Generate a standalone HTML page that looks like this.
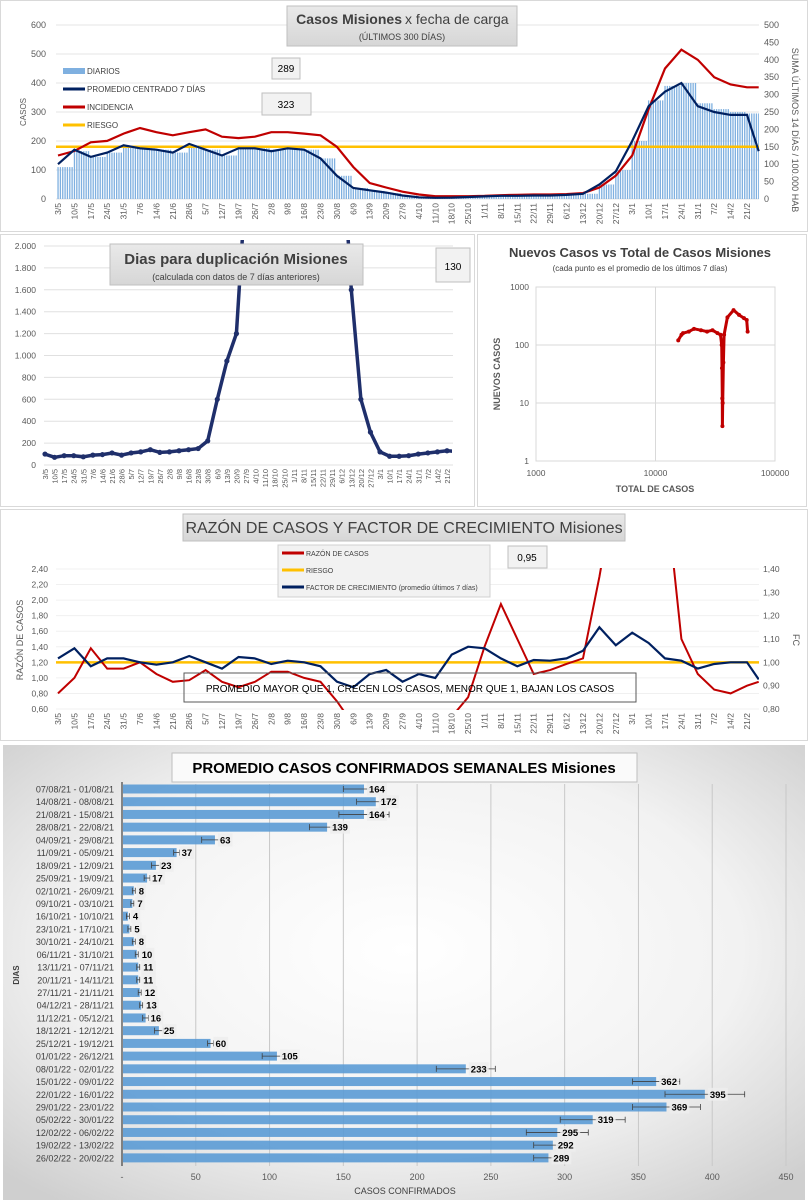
<!DOCTYPE html>
<html><head><meta charset="utf-8"><title>Misiones COVID dashboard</title>
<style>
html,body{margin:0;padding:0;background:#fff;}
svg{display:block;font-family:"Liberation Sans",sans-serif;}
</style></head>
<body>
<svg id="root" width="808" height="1200" viewBox="0 0 808 1200">
<defs>
<radialGradient id="bg5" cx="50%" cy="45%" r="70%"><stop offset="0" stop-color="#ffffff"/><stop offset="0.6" stop-color="#f2f2f2"/><stop offset="1" stop-color="#cfcfcf"/></radialGradient>
<linearGradient id="tbox" x1="0" y1="0" x2="0" y2="1"><stop offset="0" stop-color="#e9e9e9"/><stop offset="1" stop-color="#d6d6d6"/></linearGradient>
<clipPath id="clip1"><rect x="56" y="24" width="703" height="176"/></clipPath>
<clipPath id="clip2"><rect x="40" y="240" width="412" height="226"/></clipPath>
<clipPath id="clip4"><rect x="56" y="568" width="703" height="142"/></clipPath>
</defs>
<rect x="0.5" y="0.5" width="807" height="231" fill="#fff" stroke="#d9d9d9"/>
<rect x="0.5" y="234.5" width="474" height="272" fill="#fff" stroke="#d9d9d9"/>
<rect x="477.5" y="234.5" width="329" height="272" fill="#fff" stroke="#d9d9d9"/>
<rect x="0.5" y="509.5" width="807" height="231" fill="#fff" stroke="#d9d9d9"/>
<rect x="3" y="745" width="802" height="455" fill="url(#bg5)"/>
<g id="g1"></g><g id="g2"></g><g id="g3"></g><g id="g4"></g><g id="g5"></g>
</svg>
<script>
// ---------- shared data ----------
const weekLabels = ["3/5","10/5","17/5","24/5","31/5","7/6","14/6","21/6","28/6","5/7","12/7","19/7","26/7","2/8","9/8","16/8","23/8","30/8","6/9","13/9","20/9","27/9","4/10","11/10","18/10","25/10","1/11","8/11","15/11","22/11","29/11","6/12","13/12","20/12","27/12","3/1","10/1","17/1","24/1","31/1","7/2","14/2","21/2"];
// chart 1
const diariosSemana = [110,165,145,160,180,175,170,160,185,170,150,175,175,170,175,170,140,80,38,28,20,12,6,4,5,7,9,11,11,12,12,14,18,50,100,200,340,390,400,330,310,300,295];
const promedio7 = [120,170,145,160,185,175,170,160,190,170,150,175,175,165,175,170,140,80,38,30,22,12,6,4,5,7,9,11,11,12,12,14,18,50,95,200,320,370,400,320,300,290,290,165];
const incidencia = [125,138,163,167,188,204,192,183,192,200,179,175,179,192,192,188,183,150,92,46,33,21,13,8,8,8,9,11,12,13,13,14,17,33,67,125,258,375,429,400,350,329,321,321];
const riesgo1 = 150;
const casosTicks = [0,100,200,300,400,500,600];
const incTicks = [0,50,100,150,200,250,300,350,400,450,500];
// chart 2
const duplicacion = [100,70,85,85,75,90,95,110,90,110,120,140,115,120,130,140,150,220,600,950,1200,2600,3000,3000,3000,3000,3000,3000,3000,3000,3000,3000,1600,600,300,120,80,80,85,100,110,120,130,125];
const dupTicks = [0,200,400,600,800,1000,1200,1400,1600,1800,2000];
// chart 3
const totalCasos = [15500,16500,17000,19000,21000,24000,27000,30000,33000,35000,35800,36000,36200,36300,36500,37000,37500,40000,45000,50000,55000,58000,59000];
const nuevosCasos = [120,150,160,170,190,180,170,180,160,150,100,40,12,4,10,50,150,300,400,330,290,270,170];
// chart 4
const razon = [0.80,1.00,1.38,1.12,1.12,1.20,1.05,0.95,0.97,1.10,0.95,0.88,0.95,1.08,1.08,1.00,0.95,0.70,0.40,0.30,0.30,0.30,0.30,0.30,0.50,0.75,1.40,1.95,1.50,1.05,1.10,1.18,1.25,2.30,3.50,4.00,4.00,3.50,1.50,1.05,0.85,0.80,0.90,0.95];
const factorCrec = [1.017,1.06,0.983,1.017,1.017,1.0,0.99,1.0,1.027,1.0,0.973,1.023,1.017,0.993,1.007,1.0,0.983,0.917,0.893,0.95,0.967,0.917,0.95,0.933,1.033,1.067,1.06,1.017,0.983,1.01,1.007,1.017,1.05,1.15,1.073,1.127,1.083,1.017,1.007,0.973,0.993,1.0,1.0,0.927];
const riesgo4 = 1.20;
const razonTicks = [0.6,0.8,1.0,1.2,1.4,1.6,1.8,2.0,2.2,2.4];
const fcTicks = [0.8,0.9,1.0,1.1,1.2,1.3,1.4];
// chart 5
const semanas = ["07/08/21 - 01/08/21","14/08/21 - 08/08/21","21/08/21 - 15/08/21","28/08/21 - 22/08/21","04/09/21 - 29/08/21","11/09/21 - 05/09/21","18/09/21 - 12/09/21","25/09/21 - 19/09/21","02/10/21 - 26/09/21","09/10/21 - 03/10/21","16/10/21 - 10/10/21","23/10/21 - 17/10/21","30/10/21 - 24/10/21","06/11/21 - 31/10/21","13/11/21 - 07/11/21","20/11/21 - 14/11/21","27/11/21 - 21/11/21","04/12/21 - 28/11/21","11/12/21 - 05/12/21","18/12/21 - 12/12/21","25/12/21 - 19/12/21","01/01/22 - 26/12/21","08/01/22 - 02/01/22","15/01/22 - 09/01/22","22/01/22 - 16/01/22","29/01/22 - 23/01/22","05/02/22 - 30/01/22","12/02/22 - 06/02/22","19/02/22 - 13/02/22","26/02/22 - 20/02/22"];
const promedioSemanal = [164,172,164,139,63,37,23,17,8,7,4,5,8,10,11,11,12,13,16,25,60,105,233,362,395,369,319,295,292,289];
const errorSemanal = [14,13,17,12,9,2,3,2,1,1,1,1,1,1,1,1,1,1,2,3,2,10,20,16,27,23,22,21,13,10];
const barTicks = [0,50,100,150,200,250,300,350,400,450];

// ---------- helpers ----------
const NS = "http://www.w3.org/2000/svg";
function mk(parent, tag, attrs, name, inter) {
  const el = document.createElementNS(NS, tag);
  for (const k in attrs) el.setAttribute(k, attrs[k]);
  
  
  parent.appendChild(el);
  return el;
}
function txt(parent, x, y, s, size, name, extra) {
  const a = Object.assign({x: x, y: y, 'font-size': size, fill: '#595959'}, extra || {});
  const t = mk(parent, 'text', a, name, false);
  t.textContent = s;
  return t;
}
function dayOf(i) { return i < 43 ? i * 7 : 299; }
function fmt(v, dec, sep) { return v.toFixed(dec).replace('.', sep); }
function thou(v) { return v >= 1000 ? Math.floor(v / 1000) + '.' + String(v % 1000).padStart(3, '0') : String(v); }
function titleBox(g, x, y, w, h, name) { mk(g, 'rect', {x: x, y: y, width: w, height: h, fill: 'url(#tbox)', stroke: '#bfbfbf'}, name, false); }

// ---------- chart 1 ----------
(function () {
  const g = document.getElementById('g1');
  const x0 = 58, pxDay = 689 / 294;
  const X = d => x0 + d * pxDay;
  const yL = v => 199 - v * 174 / 600;
  const yR = v => 199 - v * 174 / 500;
  casosTicks.forEach(v => {
    mk(g, 'line', {x1: 56, x2: 759, y1: yL(v), y2: yL(v), stroke: '#e4e4e4'}, 'gridline', false);
    txt(g, 46, yL(v) + 3, String(v), 9, 'y-tick-label', {'text-anchor': 'end'});
  });
  incTicks.forEach(v => txt(g, 764, yR(v) + 3, String(v), 9, 'y2-tick-label'));
  const bars = mk(g, 'g', {'clip-path': 'url(#clip1)'}, 'diarios-bars', false);
  diariosSemana.forEach((v, w) => {
    for (let k = 0; k < 7; k++) {
      const d = w * 7 + k;
      if (d > 299) break;
      mk(bars, 'rect', {x: X(d) - 0.6, y: yL(v), width: 1.3, height: 199 - yL(v), fill: '#7fb0e0'}, 'bar-diarios', false);
    }
  });
  mk(g, 'line', {x1: 56, x2: 759, y1: yR(riesgo1), y2: yR(riesgo1), stroke: '#ffc000', 'stroke-width': 2.5}, 'riesgo-line', false);
  const pInc = incidencia.map((v, i) => X(dayOf(i)).toFixed(1) + ',' + yR(v).toFixed(1)).join(' ');
  mk(g, 'polyline', {points: pInc, fill: 'none', stroke: '#c00000', 'stroke-width': 2.2, 'clip-path': 'url(#clip1)'}, 'incidencia-line', false);
  const pProm = promedio7.map((v, i) => X(dayOf(i)).toFixed(1) + ',' + yL(v).toFixed(1)).join(' ');
  mk(g, 'polyline', {points: pProm, fill: 'none', stroke: '#002060', 'stroke-width': 2.2}, 'promedio-line', false);
  weekLabels.forEach((s, i) => {
    txt(g, 0, 0, s, 8.5, 'x-tick-label', {'text-anchor': 'end', transform: 'translate(' + (X(i * 7) + 3) + ',203) rotate(-90)'});
  });
  txt(g, 0, 0, 'CASOS', 8, 'y-axis-title', {'text-anchor': 'middle', transform: 'translate(26,112) rotate(-90)'});
  txt(g, 0, 0, 'SUMA  ÚLTIMOS 14 DÍAS / 100.000 HAB', 9, 'y2-axis-title', {'text-anchor': 'middle', transform: 'translate(792,130) rotate(90)'});
  titleBox(g, 287, 6, 230, 40, 'title-box');
  txt(g, 402, 24, 'Casos Misiones', 14, 'chart-title', {'text-anchor': 'end', 'font-weight': 'bold', fill: '#404040'});
  txt(g, 405, 24, ' x fecha de carga', 14, 'chart-title-2', {fill: '#404040'});
  txt(g, 402, 40, '(ÚLTIMOS 300 DÍAS)', 9, 'chart-subtitle', {'text-anchor': 'middle', fill: '#404040'});
  const leg = [['DIARIOS', '#7fb0e0', 6], ['PROMEDIO CENTRADO 7 DÍAS', '#002060', 3], ['INCIDENCIA', '#c00000', 3], ['RIESGO', '#ffc000', 3]];
  leg.forEach((e, i) => {
    const y = 71 + i * 18;
    mk(g, 'rect', {x: 63, y: y - e[2] / 2, width: 22, height: e[2], fill: e[1]}, 'legend-swatch', false);
    txt(g, 87, y + 3, e[0], 8, 'legend-entry', {fill: '#404040'});
  });
  mk(g, 'rect', {x: 272, y: 58, width: 28, height: 21, fill: '#f2f2f2', stroke: '#bfbfbf'}, 'last-diarios-box', false);
  txt(g, 286, 72, '289', 10, 'last-diarios-value', {'text-anchor': 'middle', fill: '#000'});
  mk(g, 'rect', {x: 262, y: 93, width: 49, height: 22, fill: '#f2f2f2', stroke: '#bfbfbf'}, 'last-incidencia-box', false);
  txt(g, 286, 108, '323', 10, 'last-incidencia-value', {'text-anchor': 'middle', fill: '#000'});
})();

// ---------- chart 2 ----------
(function () {
  const g = document.getElementById('g2');
  const x0 = 45, pxDay = 402 / 294;
  const X = d => x0 + d * pxDay;
  const Y = v => 465 - v * 219 / 2000;
  dupTicks.forEach(v => {
    mk(g, 'line', {x1: 44, x2: 453, y1: Y(v), y2: Y(v), stroke: '#e0e0e0'}, 'gridline', false);
    txt(g, 36, Y(v) + 3, thou(v), 8.5, 'y-tick-label', {'text-anchor': 'end'});
  });
  const pts = duplicacion.map((v, i) => X(dayOf(i)).toFixed(1) + ',' + Y(v).toFixed(1)).join(' ');
  mk(g, 'polyline', {points: pts, fill: 'none', stroke: '#1f2f6b', 'stroke-width': 3.5, 'clip-path': 'url(#clip2)'}, 'duplicacion-line', false);
  const dots = mk(g, 'g', {'clip-path': 'url(#clip2)'}, 'duplicacion-markers', false);
  duplicacion.forEach((v, i) => mk(dots, 'circle', {cx: X(dayOf(i)), cy: Y(v), r: 2.6, fill: '#1f2f6b'}, 'duplicacion-point', false));
  weekLabels.forEach((s, i) => {
    txt(g, 0, 0, s, 7.5, 'x-tick-label', {'text-anchor': 'end', transform: 'translate(' + (X(i * 7) + 3) + ',469) rotate(-90)'});
  });
  titleBox(g, 110, 244, 253, 41, 'title-box');
  txt(g, 236, 264, 'Dias para duplicación Misiones', 15, 'chart-title', {'text-anchor': 'middle', 'font-weight': 'bold', fill: '#404040'});
  txt(g, 236, 280, '(calculada con datos de 7 días anteriores)', 9, 'chart-subtitle', {'text-anchor': 'middle', fill: '#404040'});
  mk(g, 'rect', {x: 436, y: 248, width: 34, height: 34, fill: '#f2f2f2', stroke: '#bfbfbf'}, 'last-value-box', false);
  txt(g, 453, 270, '130', 10, 'last-value', {'text-anchor': 'middle', fill: '#000'});
})();

// ---------- chart 3 ----------
(function () {
  const g = document.getElementById('g3');
  const X = v => 536 + (Math.log10(v) - 3) * 119.5;
  const Y = v => 461 - Math.log10(v) * 58;
  mk(g, 'rect', {x: 536, y: 287, width: 239, height: 174, fill: 'none', stroke: '#d9d9d9'}, 'plot-area', false);
  [10000].forEach(v => mk(g, 'line', {x1: X(v), x2: X(v), y1: 287, y2: 461, stroke: '#d9d9d9'}, 'gridline-x', false));
  [10, 100].forEach(v => mk(g, 'line', {x1: 536, x2: 775, y1: Y(v), y2: Y(v), stroke: '#d9d9d9'}, 'gridline-y', false));
  [1, 10, 100, 1000].forEach(v => txt(g, 529, Y(v) + 3, String(v), 8.5, 'y-tick-label', {'text-anchor': 'end'}));
  [1000, 10000, 100000].forEach(v => txt(g, X(v), 476, String(v), 8.5, 'x-tick-label', {'text-anchor': 'middle'}));
  const pts = totalCasos.map((t, i) => X(t).toFixed(1) + ',' + Y(nuevosCasos[i]).toFixed(1)).join(' ');
  mk(g, 'polyline', {points: pts, fill: 'none', stroke: '#c00000', 'stroke-width': 3, 'stroke-linejoin': 'round'}, 'scatter-line', false);
  totalCasos.forEach((t, i) => mk(g, 'circle', {cx: X(t), cy: Y(nuevosCasos[i]), r: 2, fill: '#c00000'}, 'scatter-point', false));
  txt(g, 640, 257, 'Nuevos Casos vs Total de Casos Misiones', 13, 'chart-title', {'text-anchor': 'middle', 'font-weight': 'bold', fill: '#404040'});
  txt(g, 640, 271, '(cada punto es el promedio de los últimos 7 días)', 8, 'chart-subtitle', {'text-anchor': 'middle', fill: '#404040'});
  txt(g, 655, 492, 'TOTAL DE CASOS', 9, 'x-axis-title', {'text-anchor': 'middle', 'font-weight': 'bold'});
  txt(g, 0, 0, 'NUEVOS  CASOS', 9, 'y-axis-title', {'text-anchor': 'middle', 'font-weight': 'bold', transform: 'translate(500,374) rotate(-90)'});
})();

// ---------- chart 4 ----------
(function () {
  const g = document.getElementById('g4');
  const x0 = 58, pxDay = 689 / 294;
  const X = d => x0 + d * pxDay;
  const yL = v => 709 - (v - 0.6) * 140 / 1.8;
  const yR = v => 709 - (v - 0.8) * 140 / 0.6;
  razonTicks.forEach(v => {
    mk(g, 'line', {x1: 56, x2: 759, y1: yL(v), y2: yL(v), stroke: '#f0f0f0'}, 'gridline', false);
    txt(g, 48, yL(v) + 3, fmt(v, 2, ','), 8.5, 'y-tick-label', {'text-anchor': 'end'});
  });
  fcTicks.forEach(v => txt(g, 763, yR(v) + 3, fmt(v, 2, ','), 8.5, 'y2-tick-label'));
  mk(g, 'line', {x1: 56, x2: 759, y1: yL(riesgo4), y2: yL(riesgo4), stroke: '#ffc000', 'stroke-width': 2.5}, 'riesgo-line', false);
  const pR = razon.map((v, i) => X(dayOf(i)).toFixed(1) + ',' + yL(v).toFixed(1)).join(' ');
  mk(g, 'polyline', {points: pR, fill: 'none', stroke: '#c00000', 'stroke-width': 2, 'clip-path': 'url(#clip4)'}, 'razon-line', false);
  const pF = factorCrec.map((v, i) => X(dayOf(i)).toFixed(1) + ',' + yR(v).toFixed(1)).join(' ');
  mk(g, 'polyline', {points: pF, fill: 'none', stroke: '#002060', 'stroke-width': 2.2, 'clip-path': 'url(#clip4)'}, 'factor-line', false);
  weekLabels.forEach((s, i) => {
    txt(g, 0, 0, s, 8.5, 'x-tick-label', {'text-anchor': 'end', transform: 'translate(' + (X(i * 7) + 3) + ',713) rotate(-90)'});
  });
  txt(g, 0, 0, 'RAZÓN  DE CASOS', 9, 'y-axis-title', {'text-anchor': 'middle', transform: 'translate(23,640) rotate(-90)'});
  txt(g, 0, 0, 'FC', 9, 'y2-axis-title', {'text-anchor': 'middle', transform: 'translate(793,640) rotate(90)'});
  titleBox(g, 183, 514, 442, 27, 'title-box');
  txt(g, 404, 533, 'RAZÓN DE CASOS Y FACTOR DE CRECIMIENTO Misiones', 16, 'chart-title', {'text-anchor': 'middle', fill: '#404040'});
  mk(g, 'rect', {x: 278, y: 545, width: 212, height: 52, fill: '#f2f2f2', stroke: '#d0d0d0'}, 'legend-box', false);
  const leg = [['RAZÓN DE CASOS', '#c00000'], ['RIESGO', '#ffc000'], ['FACTOR DE CRECIMIENTO (promedio últimos 7 días)', '#002060']];
  leg.forEach((e, i) => {
    const y = 553 + i * 17;
    mk(g, 'rect', {x: 282, y: y - 1.5, width: 22, height: 3, fill: e[1]}, 'legend-swatch', false);
    txt(g, 306, y + 3, e[0], 7, 'legend-entry', {fill: '#404040'});
  });
  mk(g, 'rect', {x: 508, y: 546, width: 39, height: 22, fill: '#f2f2f2', stroke: '#bfbfbf'}, 'last-value-box', false);
  txt(g, 527, 561, '0,95', 10, 'last-value', {'text-anchor': 'middle', fill: '#000'});
  mk(g, 'rect', {x: 184, y: 673, width: 452, height: 29, fill: 'none', stroke: '#595959'}, 'annotation-box', false);
  txt(g, 410, 692, 'PROMEDIO MAYOR QUE 1, CRECEN LOS CASOS, MENOR QUE 1, BAJAN LOS CASOS', 10, 'annotation-text', {'text-anchor': 'middle', fill: '#000'});
})();

// ---------- chart 5 ----------
(function () {
  const g = document.getElementById('g5');
  const X = v => 122 + v * 664 / 450;
  const Y = i => 789 + i * 12.72;
  barTicks.forEach(v => {
    if (v > 0) mk(g, 'line', {x1: X(v), x2: X(v), y1: 784, y2: 1166, stroke: '#c8c8c8'}, 'gridline', false);
    txt(g, X(v), 1180, v === 0 ? '-' : String(v), 9, 'x-tick-label', {'text-anchor': 'middle'});
  });
  mk(g, 'line', {x1: 122, x2: 122, y1: 782, y2: 1166, stroke: '#404040', 'stroke-width': 1.2}, 'y-axis-line', false);
  semanas.forEach((s, i) => {
    const v = promedioSemanal[i], e = errorSemanal[i], y = Y(i);
    txt(g, 114, y + 3.5, s, 9, 'category-label', {'text-anchor': 'end', fill: '#404040'});
    mk(g, 'rect', {x: 123, y: y - 4.5, width: X(v) - 123, height: 9, fill: '#5b9bd5', opacity: 0.9}, 'bar-semana', false);
    mk(g, 'line', {x1: X(v - e), x2: X(v + e), y1: y, y2: y, stroke: '#404040', 'stroke-width': 0.8}, 'error-bar', false);
    mk(g, 'line', {x1: X(v - e), x2: X(v - e), y1: y - 3, y2: y + 3, stroke: '#404040', 'stroke-width': 0.8}, 'error-cap', false);
    mk(g, 'line', {x1: X(v + e), x2: X(v + e), y1: y - 3, y2: y + 3, stroke: '#404040', 'stroke-width': 0.8}, 'error-cap', false);
    const lx = X(v) + 3;
    const w = String(v).length * 5.3 + 4;
    mk(g, 'rect', {x: lx, y: y - 6.5, width: w, height: 13, fill: '#ededed', opacity: 0.85}, 'value-label-bg', false);
    txt(g, lx + 2, y + 3.5, String(v), 9.5, 'value-label', {'font-weight': 'bold', fill: '#000'});
  });
  mk(g, 'rect', {x: 172, y: 753, width: 465, height: 29, fill: '#fafafa', stroke: '#bfbfbf'}, 'title-box', false);
  txt(g, 404, 773, 'PROMEDIO CASOS CONFIRMADOS SEMANALES Misiones', 15, 'chart-title', {'text-anchor': 'middle', 'font-weight': 'bold', fill: '#000'});
  txt(g, 405, 1194, 'CASOS CONFIRMADOS', 9, 'x-axis-title', {'text-anchor': 'middle', fill: '#404040'});
  txt(g, 0, 0, 'DIAS', 8, 'y-axis-title', {'text-anchor': 'middle', 'font-weight': 'bold', fill: '#404040', transform: 'translate(19,975) rotate(-90)'});
})();
</script>
</body></html>
